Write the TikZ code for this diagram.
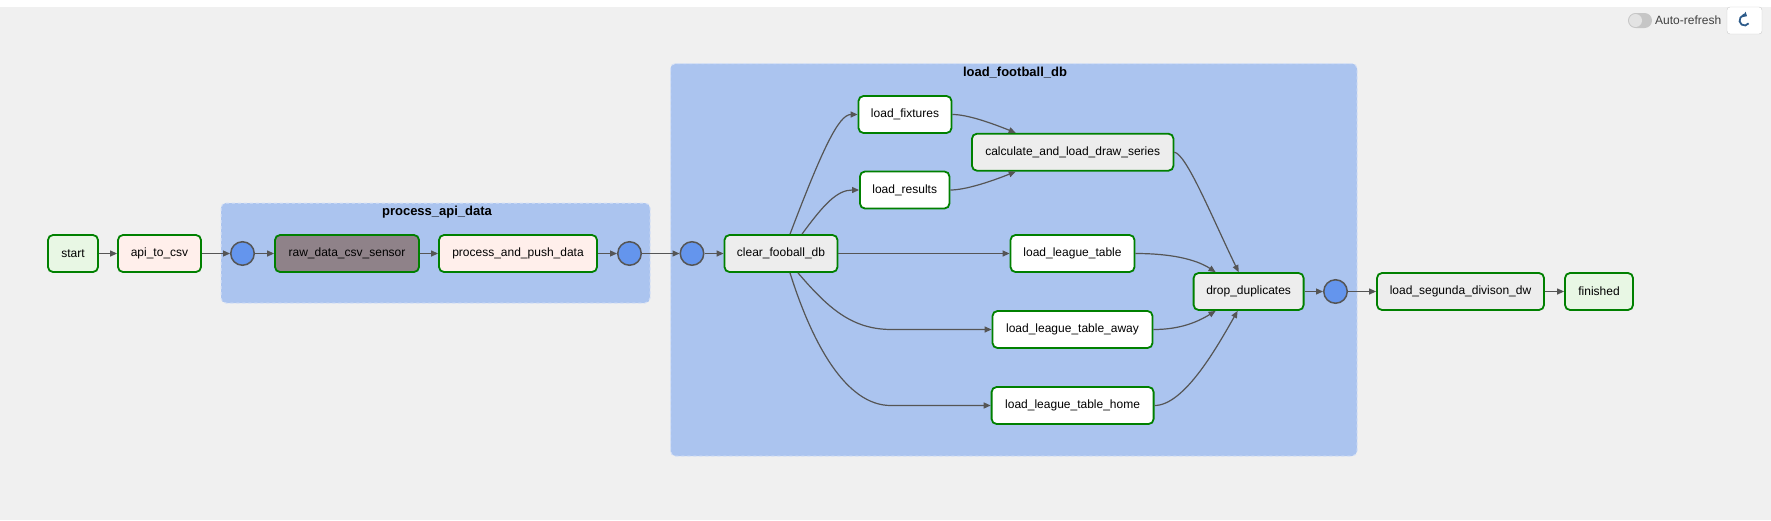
\documentclass[tikz,border=0pt]{standalone}
\usepackage{fontspec}
\setmainfont{Liberation Sans}
\usetikzlibrary{arrows.meta}
\definecolor{bg}{HTML}{F0F0F0}
\definecolor{grp}{RGB}{171,196,239}
\definecolor{grpedge}{RGB}{212,224,247}
\definecolor{cblue}{HTML}{6495ED}
\definecolor{okgreen}{HTML}{008000}
\definecolor{dummyc}{HTML}{E8F7E4}
\definecolor{pyc}{HTML}{FFEFEB}
\definecolor{sensorc}{RGB}{143,130,137}
\definecolor{pgc}{HTML}{EDEDED}
\definecolor{edgec}{HTML}{555555}
\definecolor{iconc}{HTML}{2D5B8A}
\begin{document}
\begin{tikzpicture}[x=1pt,y=-1pt,
  every node/.style={font=\fontsize{12}{14}\selectfont},
  task/.style={draw=okgreen, line width=1.8pt, rounded corners=5pt, minimum height=37pt, inner sep=0pt, text=black},
  joinpt/.style={circle, draw=edgec, line width=1.5pt, fill=cblue, minimum size=23.5pt, inner sep=0pt},
  flow/.style={draw=edgec, line width=1.2pt, -{Triangle[length=7pt,width=6pt]}},
  grpbox/.style={fill=grp, draw=grpedge, dashed, dash pattern=on 3pt off 3pt, line width=1pt, rounded corners=5pt},
  grplabel/.style={font=\bfseries\fontsize{13}{15}\selectfont, text=black, inner sep=0pt}
]
\useasboundingbox (0,0) rectangle (1771,520);
\fill[white] (0,0) rectangle (1771,7);
\fill[bg] (0,7) rectangle (1771,520);

% top-right controls
\fill[gray!45, rounded corners=7.5pt] (1628,13) rectangle (1652,28);
\fill[gray!22] (1635.5,20.5) circle (6.5);
\node[anchor=west, inner sep=0pt, text=black!75] (autoref) at (1655,20.5) {Auto-refresh};
\draw[gray!40, fill=white, rounded corners=3pt] (1727,7) rectangle (1762,34);
\draw[iconc, line width=1.8pt, -{Triangle[length=3.5pt,width=6pt]}] (1744.5,20.5) ++(35:5) arc (35:300:5);

% groups
\draw[grpbox] (221,203) rectangle (650,303);
\node[grplabel] (lblproc) at (437,212) {process\_api\_data};
\draw[grpbox] (670.5,63.5) rectangle (1357,456);
\node[grplabel] (lblload) at (1015,72.5) {load\_football\_db};

% nodes
\node[task, fill=dummyc, minimum width=50pt] (start) at (73,253.5) {start};
\node[task, fill=pyc, minimum width=83pt] (api) at (159.5,253.5) {api\_to\_csv};
\node[joinpt] (j1) at (242.5,253.5) {};
\node[task, fill=sensorc, minimum width=144pt] (raw) at (347,253.5) {raw\_data\_csv\_sensor};
\node[task, fill=pyc, minimum width=158pt] (push) at (518,253.5) {process\_and\_push\_data};
\node[joinpt] (j2) at (629.5,253.5) {};
\node[joinpt] (j3) at (692,253.5) {};
\node[task, fill=pgc, minimum width=113pt] (clear) at (781,253.5) {clear\_fooball\_db};
\node[task, fill=white, minimum width=93pt] (fix) at (905,114.5) {load\_fixtures};
\node[task, fill=white, minimum width=89.5pt] (res) at (904.7,190) {load\_results};
\node[task, fill=pgc, minimum width=201.5pt] (calc) at (1072.7,152.2) {calculate\_and\_load\_draw\_series};
\node[task, fill=white, minimum width=124pt] (lt) at (1072.5,253.5) {load\_league\_table};
\node[task, fill=white, minimum width=160pt] (away) at (1072.5,329.5) {load\_league\_table\_away};
\node[task, fill=white, minimum width=162pt] (home) at (1072.6,405.5) {load\_league\_table\_home};
\node[task, fill=pgc, minimum width=110pt] (drop) at (1248.6,291.5) {drop\_duplicates};
\node[joinpt] (j4) at (1335.5,291.5) {};
\node[task, fill=pgc, minimum width=167pt] (seg) at (1460.5,291.5) {load\_segunda\_divison\_dw};
\node[task, fill=dummyc, minimum width=68pt] (fin) at (1599,291.5) {finished};

% edges
\draw[flow] (start) -- (api);
\draw[flow] (api) -- (j1);
\draw[flow] (j1) -- (raw);
\draw[flow] (raw) -- (push);
\draw[flow] (push) -- (j2);
\draw[flow] (j2) -- (j3);
\draw[flow] (j3) -- (clear);
\draw[flow] ([xshift=9pt]clear.north) .. controls +(32,-84) and +(-19,0) .. (fix.west);
\draw[flow] ([xshift=21pt]clear.north) .. controls +(22,-30) and +(-22,0) .. (res.west);
\draw[flow] (clear) -- (lt);
\draw[flow] ([xshift=17pt]clear.south) .. controls +(30,35) and +(-40,0) .. ([xshift=-100pt]away.west) -- (away.west);
\draw[flow] ([xshift=9pt]clear.south) .. controls +(22,70) and +(-45,0) .. ([xshift=-100pt]home.west) -- (home.west);
\draw[flow] (fix.east) .. controls +(15,0) and +(-25,-10) .. ([xshift=-57pt]calc.north);
\draw[flow] (res.east) .. controls +(15,0) and +(-25,10) .. ([xshift=-57pt]calc.south);
\draw[flow] (calc.east) .. controls +(12,2) and +(-28,-58) .. ([xshift=-10pt]drop.north);
\draw[flow] (lt.east) .. controls +(35,0) and +(-20,-13) .. ([xshift=-33pt]drop.north);
\draw[flow] (away.east) .. controls +(27,0) and +(-18,11) .. ([xshift=-33pt]drop.south);
\draw[flow] (home.east) .. controls +(30,0) and +(-20,35) .. ([xshift=-11pt]drop.south);
\draw[flow] (drop) -- (j4);
\draw[flow] (j4) -- (seg);
\draw[flow] (seg) -- (fin);
\end{tikzpicture}
\end{document}
